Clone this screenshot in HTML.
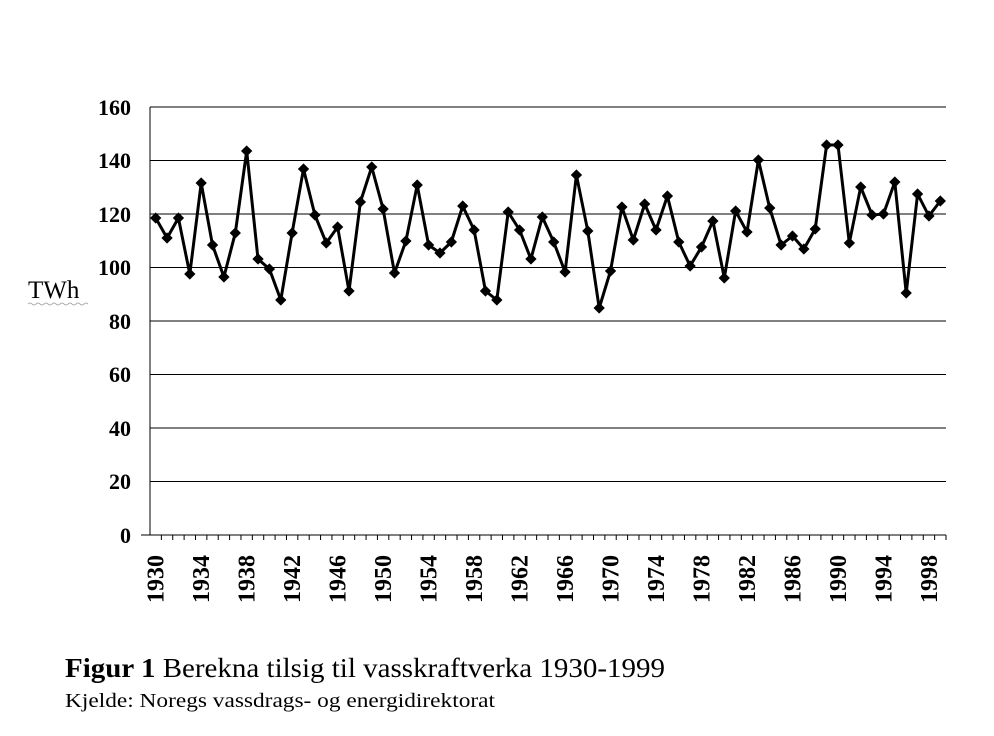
<!DOCTYPE html>
<html><head><meta charset="utf-8"><style>
html,body{margin:0;padding:0;background:#fff;}
svg{display:block;font-family:"Liberation Serif",serif;}
</style></head><body>
<svg width="994" height="736" xmlns="http://www.w3.org/2000/svg">
<g stroke="#000" stroke-width="1">
<line x1="150" y1="107" x2="946" y2="107"/>
<line x1="150" y1="160.5" x2="946" y2="160.5"/>
<line x1="150" y1="214" x2="946" y2="214"/>
<line x1="150" y1="267.5" x2="946" y2="267.5"/>
<line x1="150" y1="321" x2="946" y2="321"/>
<line x1="150" y1="374.5" x2="946" y2="374.5"/>
<line x1="150" y1="428" x2="946" y2="428"/>
<line x1="150" y1="481.5" x2="946" y2="481.5"/>
<line x1="141" y1="535" x2="946" y2="535"/>
<line x1="150" y1="107" x2="150" y2="535"/>
</g>
<g id="ticks"></g>
<g font-size="22" font-weight="bold" text-anchor="end">
<text x="131" y="115">160</text><text x="131" y="168">140</text><text x="131" y="222">120</text><text x="131" y="275">100</text><text x="131" y="329">80</text><text x="131" y="382">60</text><text x="131" y="436">40</text><text x="131" y="489">20</text><text x="131" y="543">0</text>
</g>
<text x="28" y="298" font-size="25">TWh</text>
<path d="M28 304 q2 -2 4 0 t4 0 t4 0 t4 0 t4 0 t4 0 t4 0 t4 0 t4 0 t4 0 t4 0 t4 0 t4 0 t4 0 t4 0" stroke="#999" fill="none" stroke-width="0.8"/>
<g id="xl" font-size="24" font-weight="bold"></g>
<polyline id="ln" fill="none" stroke="#000" stroke-width="3" stroke-linejoin="round"/>
<g id="mk"></g>
<text x="65" y="677" font-size="27" textLength="600" lengthAdjust="spacingAndGlyphs"><tspan font-weight="bold">Figur 1</tspan> Berekna tilsig til vasskraftverka 1930-1999</text>
<text x="65" y="707" font-size="20" textLength="430" lengthAdjust="spacingAndGlyphs">Kjelde: Noregs vassdrags- og energidirektorat</text>
</svg>
<script>
var ys=[218,238,218,274,183,245,277,233,151,259,269,300,233,169,215,243,227,291,202,167,209,273,241,185,245,253,242,206,230,291,300,212,230,259,217,242,272,175,231,308,271,207,240,204,230,196,242,266,247,221,278,211,232,160,208,245,236,249,229,145,145,243,187,215,214,182,293,194,216,201];
var ns="http://www.w3.org/2000/svg",w=796/70,pts=[],mk=document.getElementById('mk'),xl=document.getElementById('xl'),tk=document.getElementById('ticks');
for(var i=0;i<70;i++){var x=150+w*(i+0.5),y=ys[i];pts.push(x.toFixed(1)+','+y);
var p=document.createElementNS(ns,'rect');p.setAttribute('x',x-4);p.setAttribute('y',y-4);p.setAttribute('width',8);p.setAttribute('height',8);p.setAttribute('transform','rotate(45 '+x+' '+y+')');mk.appendChild(p);
var t=document.createElementNS(ns,'line');var tx=150+w*(i+1);t.setAttribute('x1',tx);t.setAttribute('x2',tx);t.setAttribute('y1',535);t.setAttribute('y2',540);t.setAttribute('stroke','#000');tk.appendChild(t);
if(i%4==0){var s=document.createElementNS(ns,'text');s.setAttribute('transform','translate('+(x+8)+',603) rotate(-90)');s.setAttribute('textLength','48');s.setAttribute('lengthAdjust','spacingAndGlyphs');s.textContent=1930+i;xl.appendChild(s);}}
document.getElementById('ln').setAttribute('points',pts.join(' '));
</script>
</body></html>
